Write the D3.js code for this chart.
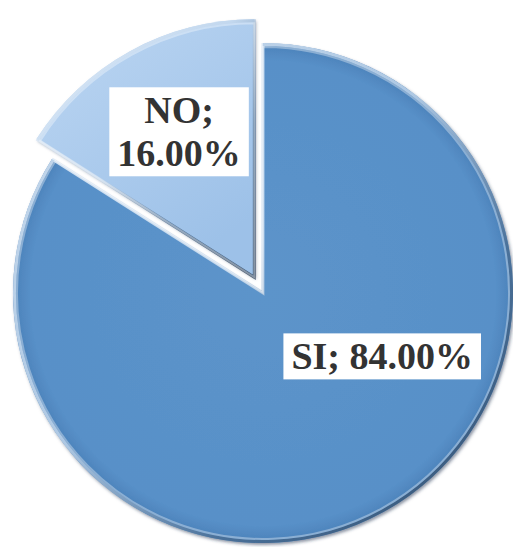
<!DOCTYPE html>
<html>
<head>
<meta charset="utf-8">
<script src="https://cdn.jsdelivr.net/npm/d3@7"></script>
<style>
  body { margin: 0; background: #fff; }
  svg { display: block; }
</style>
</head>
<body>
<div id="chart"></div>
<script>
// data
const labels = ["SI", "NO"];
const values = [84, 16];

const w = 513, h = 547;
const cx = 263, cy = 293, r = 250;
// NO slice pulled out, drawn a bit bigger like the 3D original
const explode = [0, 18];
const radii = [r, 258];

const svg = d3.select("#chart").append("svg")
  .attr("width", w).attr("height", h);

const defs = svg.append("defs");
const shadow = defs.append("filter").attr("id", "shadow")
  .attr("x", "-10%").attr("y", "-10%").attr("width", "120%").attr("height", "120%");
shadow.append("feDropShadow")
  .attr("dx", 1.5).attr("dy", 2).attr("stdDeviation", 1.8)
  .attr("flood-color", "#1d3350").attr("flood-opacity", 0.5);

const gNo = defs.append("linearGradient").attr("id", "gradNo")
  .attr("x1", "0%").attr("y1", "0%").attr("x2", "60%").attr("y2", "100%");
gNo.append("stop").attr("offset", "0%").attr("stop-color", "#bcd6f2");
gNo.append("stop").attr("offset", "100%").attr("stop-color", "#9dc1e8");

const gSi = defs.append("radialGradient").attr("id", "gradSi")
  .attr("cx", "50%").attr("cy", "50%").attr("r", "50%");
gSi.append("stop").attr("offset", "0%").attr("stop-color", "#5c94ca");
gSi.append("stop").attr("offset", "93%").attr("stop-color", "#5890c8");
gSi.append("stop").attr("offset", "100%").attr("stop-color", "#4b81b9");

// edge shading: light top-left, dark bottom-right
const gEdge = defs.append("linearGradient").attr("id", "gradEdge")
  .attr("x1", "0%").attr("y1", "0%").attr("x2", "100%").attr("y2", "100%");
gEdge.append("stop").attr("offset", "0%").attr("stop-color", "#e8f1fa");
gEdge.append("stop").attr("offset", "45%").attr("stop-color", "#c7daee");
gEdge.append("stop").attr("offset", "70%").attr("stop-color", "#4a6d92");
gEdge.append("stop").attr("offset", "100%").attr("stop-color", "#2a3f58");

const fills = ["url(#gradSi)", "url(#gradNo)"];

const pie = d3.pie().sort(null).value(d => d.value);
const data = pie(labels.map((l, i) => ({ label: l, value: values[i] })));

const g = svg.append("g").attr("transform", `translate(${cx},${cy})`);

const offset = (d, i) => {
  const a = (d.startAngle + d.endAngle) / 2;
  return [Math.sin(a) * explode[i], -Math.cos(a) * explode[i]];
};

const slices = g.selectAll("g.slice")
  .data(data)
  .enter()
  .append("g")
  .attr("class", "slice")
  .attr("transform", (d, i) => `translate(${offset(d, i)})`);

slices.append("path")
  .attr("d", (d, i) => d3.arc().innerRadius(0).outerRadius(radii[i])(d))
  .style("fill", (d, i) => fills[i])
  .attr("filter", "url(#shadow)");

// bevel rim
slices.append("path")
  .attr("d", (d, i) => d3.arc().innerRadius(0).outerRadius(radii[i] - 1.5)(d))
  .style("fill", "none")
  .style("stroke", "url(#gradEdge)")
  .style("stroke-width", 3)
  .style("opacity", 0.8);

// white inner bevel on the cut edges
slices.append("path")
  .attr("d", (d, i) => d3.arc().innerRadius(0).outerRadius(radii[i] - 4)(d))
  .style("fill", "none")
  .style("stroke", "#ffffff")
  .style("stroke-width", 2)
  .style("opacity", 0.35);

// labels
const labelArc = d3.arc().innerRadius(r * 0.6).outerRadius(r * 0.6);

const lab = slices.append("g")
  .attr("transform", (d, i) => {
    if (i === 0) {
      // Excel put SI label off its mid angle
      const a = 118 * Math.PI / 180, rr = 135;
      return `translate(${Math.sin(a) * rr},${-Math.cos(a) * rr})`;
    }
    const c = labelArc.centroid(d);
    return `translate(${c[0] - 3},${c[1] - 14})`;
  });

lab.each(function (d, i) {
  const el = d3.select(this);
  const pct = d3.format(".2f")(d.data.value) + "%";
  const lines = i === 0 ? [d.data.label + "; " + pct] : [d.data.label + ";", pct];
  const lh = 43;
  const rect = el.append("rect").style("fill", "#fff");
  const t = el.append("text")
    .style("font-family", "'Liberation Serif', 'Times New Roman', serif")
    .style("font-weight", "bold")
    .style("font-size", "38px")
    .style("fill", "#333")
    .attr("text-anchor", "middle");
  lines.forEach((ln, j) => {
    t.append("tspan")
      .attr("x", 0)
      .attr("y", (j - (lines.length - 1) / 2) * lh + 13)
      .text(ln);
  });
  const bb = t.node().getBBox();
  rect.attr("x", bb.x - 8).attr("y", bb.y - 2)
    .attr("width", bb.width + 16).attr("height", bb.height + 4);
});
</script>
</body>
</html>
